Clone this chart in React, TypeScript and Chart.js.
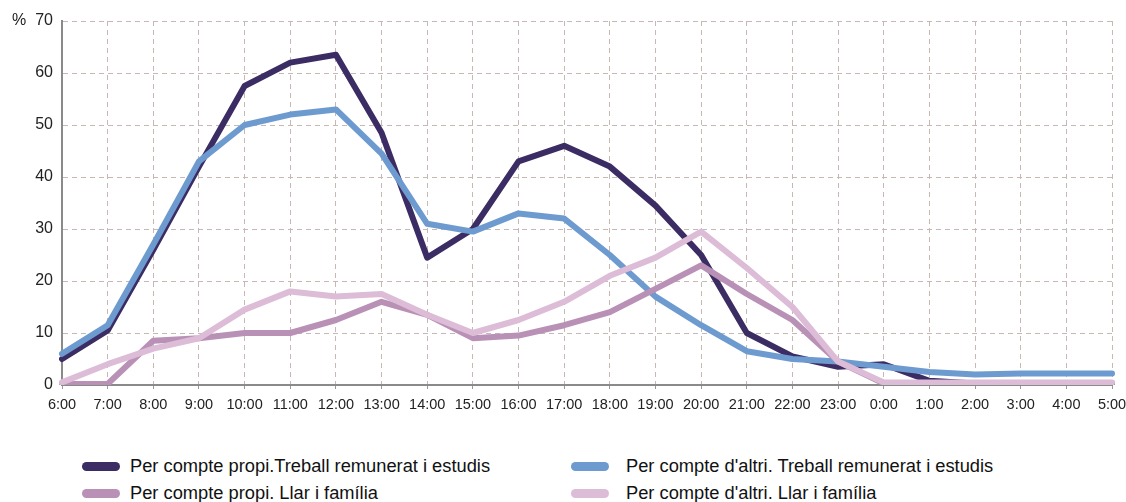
import React, { useEffect, useRef } from "react";
import { Chart, registerables } from "chart.js";

Chart.register(...registerables);

const hours = ["6:00","7:00","8:00","9:00","10:00","11:00","12:00","13:00","14:00","15:00","16:00","17:00","18:00","19:00","20:00","21:00","22:00","23:00","0:00","1:00","2:00","3:00","4:00","5:00"];

const propiTreball = [5, 10.5, 26, 42, 57.5, 62, 63.5, 48.5, 24.5, 30, 43, 46, 42, 34.5, 25, 10, 5.5, 3.5, 4, 0.8, 0.3, 0.3, 0.3, 0.3];
const altriTreball = [6, 11.5, 27, 43, 50, 52, 53, 44.5, 31, 29.5, 33, 32, 25, 17, 11.5, 6.5, 5, 4.5, 3.5, 2.5, 2, 2.2, 2.2, 2.2];
const propiLlar = [0.2, 0.2, 8.5, 9, 10, 10, 12.5, 16, 13.5, 9, 9.5, 11.5, 14, 18.5, 23, 17.5, 12.5, 4.5, 0.3, 0.3, 0.3, 0.3, 0.3, 0.3];
const altriLlar = [0.5, 4, 7, 9, 14.5, 18, 17, 17.5, 13.5, 10, 12.5, 16, 21, 24.5, 29.5, 22.5, 15, 4.5, 0.5, 0.5, 0.5, 0.5, 0.5, 0.5];

const seriesNames = [
  "Per compte propi.Treball remunerat i estudis",
  "Per compte d'altri. Treball remunerat i estudis",
  "Per compte propi. Llar i família",
  "Per compte d'altri. Llar i família",
];
const seriesColors = ["#3b2c63", "#6d9bd0", "#b990b6", "#dcbcd6"];
const yTicks = [0, 10, 20, 30, 40, 50, 60, 70];

export default function App() {
  const ref = useRef<HTMLCanvasElement | null>(null);
  useEffect(() => {
    if (!ref.current) return;
    const data = [propiTreball, altriTreball, propiLlar, altriLlar];
    const orders = [3, 2, 1, 0];
    const chart = new Chart(ref.current, {
      type: "line",
      data: {
        labels: hours,
        datasets: data.map((d, i) => ({
          label: seriesNames[i],
          data: d,
          borderColor: seriesColors[i],
          backgroundColor: seriesColors[i],
          borderWidth: 6,
          pointRadius: 0,
          tension: 0,
          borderCapStyle: "round" as const,
          borderJoinStyle: "round" as const,
          order: orders[i],
        })),
      },
      options: {
        animation: false,
        responsive: false,
        maintainAspectRatio: false,
        layout: { padding: { top: 21, right: 14, left: 0, bottom: 0 } },
        plugins: { legend: { display: false }, tooltip: { enabled: false } },
        scales: {
          x: {
            type: "category",
            offset: false,
            grid: { color: "#c8b8b3", lineWidth: 1, tickLength: 4, tickColor: "#999" },
            border: { color: "#8a8a8a", width: 2, dash: [5, 4] },
            ticks: {
              autoSkip: false,
              maxRotation: 0,
              minRotation: 0,
              color: "#222",
              padding: 7,
              font: { family: "'Liberation Sans', Arial, sans-serif", size: 14.5 },
            },
            afterFit: (s: any) => { s.height = 45; s.paddingRight = 0; },
          },
          y: {
            min: 0,
            max: 70,
            afterBuildTicks: (s: any) => { s.ticks = yTicks.map((v) => ({ value: v })); },
            grid: { color: (c: any) => (c.tick && c.tick.value === 0 ? "rgba(0,0,0,0)" : "#c8b8b3"), lineWidth: 1, drawTicks: false },
            border: { color: "#8a8a8a", width: 2, dash: [5, 4] },
            ticks: {
              color: "#222",
              padding: 9,
              font: { family: "'Liberation Sans', Arial, sans-serif", size: 16 },
              callback: (v: any) => (v === 70 ? "%  70" : String(v)),
            },
            afterFit: (s: any) => { s.width = 62; },
          },
        },
      },
    });
    return () => chart.destroy();
  }, []);

  const legendRows = [[0, 1], [2, 3]];
  const colX = [[82, 130], [571, 626]];
  return (
    <div style={{ position: "absolute", left: 0, top: 0, width: 1126, height: 502, background: "#fff", overflow: "hidden" }}>
      <canvas ref={ref} width={1126} height={430} style={{ position: "absolute", left: 0, top: 0, width: 1126, height: 430 }} />
      {legendRows.map((row, ri) =>
        row.map((si, ci) => (
          <React.Fragment key={si}>
            <div style={{ position: "absolute", left: colX[ci][0], top: (ri === 0 ? 466 : 493) - 4.5, width: 38, height: 9, borderRadius: 5, background: seriesColors[si] }} />
            <div style={{ position: "absolute", left: colX[ci][1], top: (ri === 0 ? 466 : 493) - 11, height: 22, lineHeight: "22px", fontFamily: "'Liberation Sans', Arial, sans-serif", fontSize: 18.3, color: "#111", whiteSpace: "nowrap" }}>
              {seriesNames[si]}
            </div>
          </React.Fragment>
        ))
      )}
    </div>
  );
}
